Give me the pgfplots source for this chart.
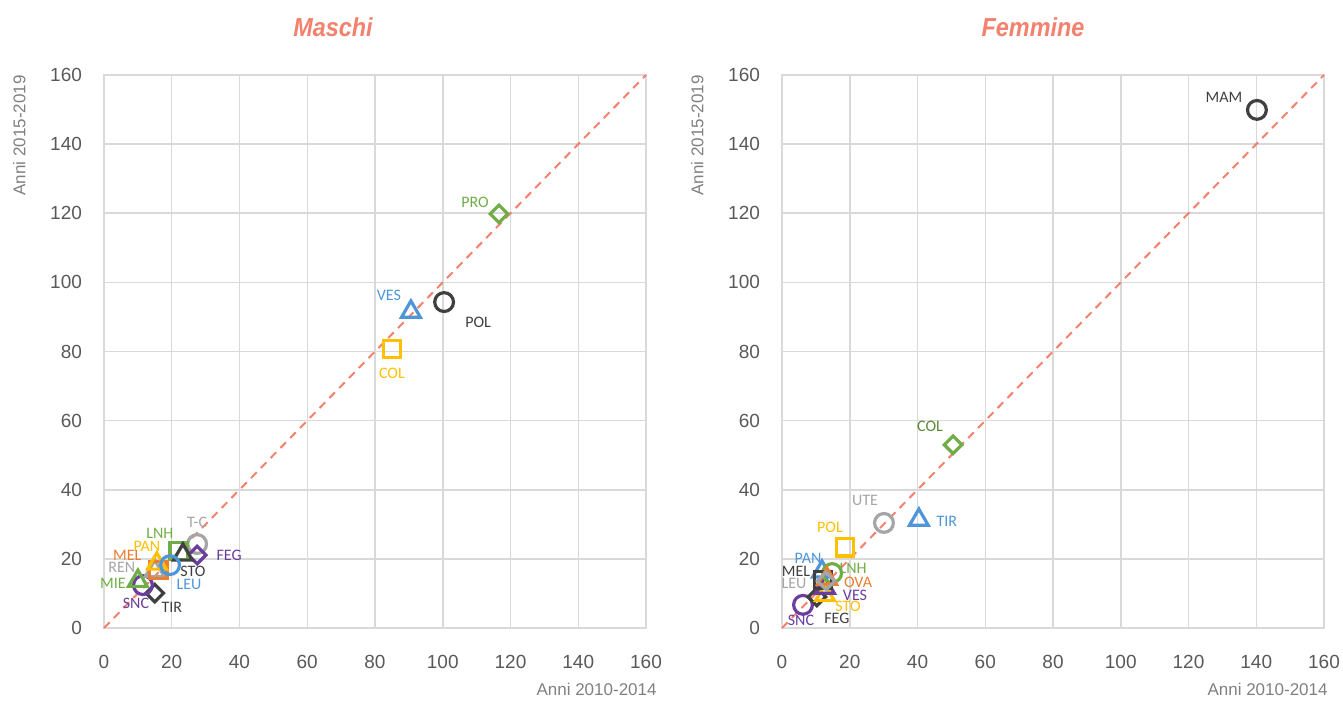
\documentclass[border=0pt]{standalone}
\usepackage{fontspec}
\setmainfont{Liberation Sans}
\newfontfamily\lblfont{Carlito}
\usepackage{pgfplots}
\pgfplotsset{compat=1.18}

\definecolor{gridc}{HTML}{D9D9D9}
\definecolor{tickc}{HTML}{595959}
\definecolor{labc}{HTML}{808080}
\definecolor{salmon}{HTML}{F4806E}
\definecolor{mblue}{HTML}{4E95D9}
\definecolor{morange}{HTML}{ED7D31}
\definecolor{mgray}{HTML}{A5A5A5}
\definecolor{myellow}{HTML}{FFC000}
\definecolor{mgreen}{HTML}{70AD47}
\definecolor{mdgreen}{HTML}{5A8A35}
\definecolor{mdark}{HTML}{404040}
\definecolor{mpurple}{HTML}{6A3E9E}

\tikzset{lab/.style={font=\lblfont\fontsize{8}{9}\selectfont, text=#1, inner sep=0pt}}
\pgfplotsset{
  panel/.style={
    scale only axis, width=271pt, height=276.5pt,
    xmin=0, xmax=160, ymin=0, ymax=160, clip=false,
    xtick distance=20, ytick distance=20,
    grid=major, major grid style={draw=gridc, line width=0.75pt},
    axis line style={draw=gridc, line width=0.75pt},
    tick style={draw=none},
    ticklabel style={font=\fontsize{9.5}{11}\selectfont, text=tickc},
    /pgf/number format/assume math mode=true,
    yticklabel style={xshift=-7.5pt},
    xticklabel style={yshift=-10pt},
  },
  circ/.style={only marks, mark=o, mark size=4.7pt, mark options={line width=1.6pt, draw=#1}},
  sqr/.style={only marks, mark=square, mark size=4.4pt, mark options={line width=1.6pt, draw=#1}},
  dia/.style={only marks, mark=square, mark size=3.1pt, mark options={line width=1.6pt, draw=#1, rotate=45}},
  tri/.style={only marks, mark=triangle, mark size=5.4pt, mark options={line width=1.6pt, draw=#1}},
  diag/.style={salmon, line width=1pt, dash pattern=on 4pt off 3pt},
}

\begin{document}
\begin{tikzpicture}
\useasboundingbox (0,0) rectangle (671.5pt,351pt);

% Maschi
\begin{axis}[panel, at={(52pt,37pt)}, anchor=south west]
\addplot[diag] coordinates {(0,0) (160,160)};
\addplot[dia=mgreen] coordinates {(116.6,119.8)};
\addplot[tri=mblue] coordinates {(90.6,91.5)};
\addplot[circ=mdark] coordinates {(100.4,94.3)};
\addplot[sqr=myellow] coordinates {(85.0,80.7)};
\addplot[circ=mgray] coordinates {(27.5,24.3)};
\addplot[dia=mpurple] coordinates {(27.5,21.1)};
\addplot[sqr=mgreen] coordinates {(22.1,22.3)};
\addplot[tri=mdark] coordinates {(23.3,21.2)};
\addplot[dia=mdark] coordinates {(15.0,10.1)};
\addplot[circ=mpurple] coordinates {(11.5,12.4)};
\addplot[tri=mgreen] coordinates {(10.0,13.6)};
\addplot[tri=mgray] coordinates {(15.0,16.5)};
\addplot[sqr=morange] coordinates {(16.0,16.8)};
\addplot[tri=myellow] coordinates {(15.6,18.6)};
\addplot[circ=mblue] coordinates {(19.5,18.2)};
\node[lab=mgreen] at (axis cs:116.6,119.8) [xshift=-12pt, yshift=6pt] {PRO};
\node[lab=mblue] at (axis cs:90.6,91.5) [xshift=-11pt, yshift=8pt] {VES};
\node[lab=mdark] at (axis cs:100.4,94.3) [xshift=17pt, yshift=-10pt] {POL};
\node[lab=myellow] at (axis cs:85.0,80.7) [yshift=-12pt] {COL};
\node[lab=mgray] at (axis cs:27.5,24.3) [yshift=11pt] {T-C};
\node[lab=mpurple] at (axis cs:27.5,21.1) [xshift=16pt] {FEG};
\node[lab=mgreen] at (axis cs:22.1,22.3) [xshift=-9.5pt, yshift=9pt] {LNH};
\node[lab=myellow] at (axis cs:15.6,18.6) [xshift=-5pt, yshift=8.5pt] {PAN};
\node[lab=morange] at (axis cs:16.0,16.8) [xshift=-15.5pt, yshift=7.5pt] {MEL};
\node[lab=mgray] at (axis cs:15.0,16.5) [xshift=-16.5pt, yshift=2pt] {REN};
\node[lab=mdark] at (axis cs:23.3,21.2) [xshift=5pt, yshift=-8.5pt] {STO};
\node[lab=mblue] at (axis cs:19.5,18.2) [xshift=9.5pt, yshift=-9.5pt] {LEU};
\node[lab=mgreen] at (axis cs:10.0,13.6) [xshift=-12.5pt, yshift=-1pt] {MIE};
\node[lab=mpurple] at (axis cs:11.5,12.4) [xshift=-3.5pt, yshift=-9pt] {SNC};
\node[lab=mdark] at (axis cs:15.0,10.1) [xshift=8.5pt, yshift=-7pt] {TIR};
\node[font=\fontsize{8.5}{10}\selectfont, text=labc, anchor=base east, inner sep=0pt]
  at (rel axis cs:1,0) [xshift=5.5pt, yshift=-33.5pt] {Anni 2010-2014};
\node[font=\fontsize{8.5}{10}\selectfont, text=labc, anchor=south east, rotate=90, inner sep=0pt]
  at (rel axis cs:0,1) [yshift=39pt] {Anni 2015-2019};
\end{axis}

% Femmine
\begin{axis}[panel, at={(391pt,37pt)}, anchor=south west]
\addplot[diag] coordinates {(0,0) (160,160)};
\addplot[circ=mdark] coordinates {(140.2,149.9)};
\addplot[dia=mgreen] coordinates {(50.5,53.0)};
\addplot[circ=mgray] coordinates {(30.1,30.4)};
\addplot[tri=mblue] coordinates {(40.4,31.3)};
\addplot[sqr=myellow] coordinates {(18.6,23.4)};
\addplot[circ=mpurple] coordinates {(6.2,6.7)};
\addplot[dia=mdark] coordinates {(10.3,9.0)};
\addplot[tri=myellow] coordinates {(12.7,9.5)};
\addplot[tri=mpurple] coordinates {(12.7,11.6)};
\addplot[tri=mblue] coordinates {(11.8,16.3)};
\addplot[circ=mgreen] coordinates {(14.8,15.9)};
\addplot[sqr=mdark] coordinates {(12.1,13.9)};
\addplot[tri=morange] coordinates {(13.3,14.2)};
\addplot[dia=mgray] coordinates {(13.0,13.6)};
\node[lab=mdark] at (axis cs:140.2,149.9) [xshift=-16.5pt, yshift=6.5pt] {MAM};
\node[lab=mdgreen] at (axis cs:50.5,53.0) [xshift=-11.5pt, yshift=9pt] {COL};
\node[lab=mgray] at (axis cs:30.1,30.4) [xshift=-9.5pt, yshift=11.5pt] {UTE};
\node[lab=mblue] at (axis cs:40.4,31.3) [xshift=14pt, yshift=-1pt] {TIR};
\node[lab=myellow] at (axis cs:18.6,23.4) [xshift=-7.5pt, yshift=10pt] {POL};
\node[lab=mblue] at (axis cs:11.8,16.3) [xshift=-7pt, yshift=6.5pt] {PAN};
\node[lab=mdark] at (axis cs:12.1,13.9) [xshift=-13.5pt, yshift=4.5pt] {MEL};
\node[lab=mgray] at (axis cs:13.0,13.6) [xshift=-16pt, yshift=-1pt] {LEU};
\node[lab=mgreen] at (axis cs:14.8,15.9) [xshift=10.5pt, yshift=2.5pt] {LNH};
\node[lab=morange] at (axis cs:13.3,14.2) [xshift=15.5pt, yshift=-1.5pt] {OVA};
\node[lab=mpurple] at (axis cs:12.7,11.6) [xshift=15pt, yshift=-3.5pt] {VES};
\node[lab=myellow] at (axis cs:12.7,9.5) [xshift=11.5pt, yshift=-5.5pt] {STO};
\node[lab=mdark] at (axis cs:10.3,9.0) [xshift=10pt, yshift=-10.5pt] {FEG};
\node[lab=mpurple] at (axis cs:6.2,6.7) [xshift=-1pt, yshift=-8pt] {SNC};
\node[font=\fontsize{8.5}{10}\selectfont, text=labc, anchor=base east, inner sep=0pt]
  at (rel axis cs:1,0) [xshift=2pt, yshift=-33.5pt] {Anni 2010-2014};
\node[font=\fontsize{8.5}{10}\selectfont, text=labc, anchor=south east, rotate=90, inner sep=0pt]
  at (rel axis cs:0,1) [yshift=39pt] {Anni 2015-2019};
\end{axis}

\node[font=\bfseries\itshape\fontsize{13}{15}\selectfont, text=salmon] at (166.5pt,337.5pt) {\scalebox{0.9}[1]{Maschi}};
\node[font=\bfseries\itshape\fontsize{13}{15}\selectfont, text=salmon] at (516.5pt,337.5pt) {\scalebox{0.9}[1]{Femmine}};
\end{tikzpicture}
\end{document}
